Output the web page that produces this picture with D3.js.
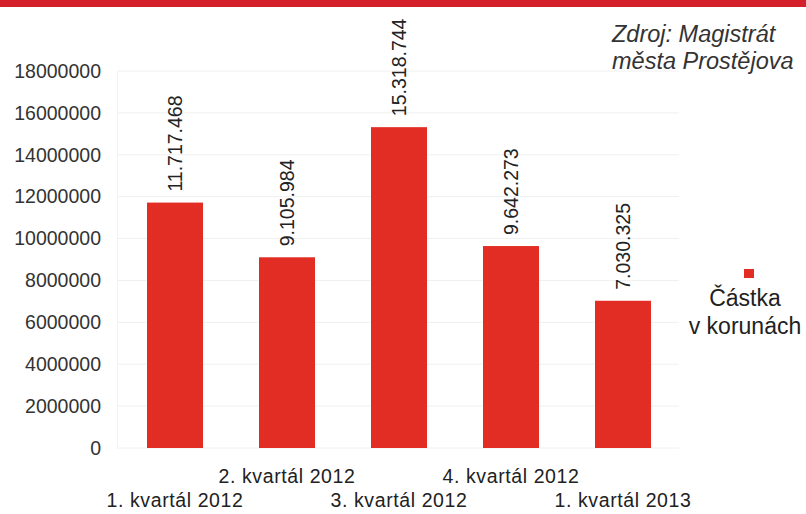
<!DOCTYPE html>
<html>
<head>
<meta charset="utf-8">
<script src="https://cdn.jsdelivr.net/npm/d3@7"></script>
<style>
  body { margin: 0; background: #fff; }
  svg { font-family: "Liberation Sans", Arial, sans-serif; }
</style>
</head>
<body>
<script>
// data
var categories = ['1. kvartál 2012', '2. kvartál 2012', '3. kvartál 2012', '4. kvartál 2012', '1. kvartál 2013'];
var values = [11717468, 9105984, 15318744, 9642273, 7030325];
var valueLabels = ['11.717.468', '9.105.984', '15.318.744', '9.642.273', '7.030.325'];
var yTicks = [0, 2000000, 4000000, 6000000, 8000000, 10000000, 12000000, 14000000, 16000000, 18000000];
var legendLines = ['Částka', 'v korunách'];
var sourceLines = ['Zdroj: Magistrát', 'města Prostějova'];

var W = 806, H = 514;
var red = '#e12d24';

var svg = d3.select('body')
  .append('svg')
  .attr('width', W)
  .attr('height', H);

// red strip at top
svg.append('rect')
  .attr('x', 0).attr('y', 0)
  .attr('width', W).attr('height', 7)
  .attr('fill', '#d4202a');

var x = d3.scaleBand()
  .domain(categories)
  .range([119, 679])
  .paddingInner(0.5)
  .paddingOuter(0.25);

var y = d3.scaleLinear()
  .domain([0, 18000000])
  .range([448, 71]);

// grid
svg.append('g')
  .selectAll('line')
  .data(yTicks)
  .enter()
  .append('line')
  .attr('x1', 117)
  .attr('x2', 679)
  .attr('y1', function(d) { return y(d); })
  .attr('y2', function(d) { return y(d); })
  .attr('stroke', '#f0f0f0')
  .attr('stroke-width', 1);

svg.append('line')
  .attr('x1', 117.5).attr('x2', 117.5)
  .attr('y1', y(18000000)).attr('y2', y(0))
  .attr('stroke', '#f2f2f2');

// y axis labels
var yAxis = d3.axisLeft(y)
  .tickValues(yTicks)
  .tickFormat(d3.format('d'))
  .tickSize(0)
  .tickPadding(0);

var yg = svg.append('g')
  .attr('transform', 'translate(101,0)')
  .call(yAxis);
yg.select('.domain').remove();
yg.selectAll('text')
  .attr('font-size', 19.5)
  .attr('fill', '#333')
  .attr('font-family', '"Liberation Sans", Arial, sans-serif');

// bars
var data = categories.map(function(c, i) {
  return { cat: c, value: values[i], label: valueLabels[i], i: i };
});

svg.append('g')
  .selectAll('rect')
  .data(data)
  .enter()
  .append('rect')
  .attr('x', function(d) { return x(d.cat); })
  .attr('y', function(d) { return y(d.value); })
  .attr('width', x.bandwidth())
  .attr('height', function(d) { return y(0) - y(d.value); })
  .attr('fill', red);

// value labels, rotated
svg.append('g')
  .selectAll('text')
  .data(data)
  .enter()
  .append('text')
  .attr('transform', function(d) {
    return 'translate(' + (x(d.cat) + x.bandwidth() / 2 + 7) + ',' + (y(d.value) - 11) + ') rotate(-90)';
  })
  .attr('font-size', 19.5)
  .attr('fill', '#222')
  .text(function(d) { return d.label; });

// category labels, staggered
svg.append('g')
  .selectAll('text')
  .data(data)
  .enter()
  .append('text')
  .attr('x', function(d) { return x(d.cat) + x.bandwidth() / 2; })
  .attr('y', function(d) { return d.i % 2 === 0 ? 507 : 483; })
  .attr('text-anchor', 'middle')
  .attr('font-size', 19.5)
  .attr('letter-spacing', 0.6)
  .attr('fill', '#222')
  .text(function(d) { return d.cat; });

// legend
svg.append('rect')
  .attr('x', 744).attr('y', 269)
  .attr('width', 10).attr('height', 9)
  .attr('fill', red);

svg.append('g')
  .selectAll('text')
  .data(legendLines)
  .enter()
  .append('text')
  .attr('x', 745)
  .attr('y', function(d, i) { return 306 + i * 28; })
  .attr('text-anchor', 'middle')
  .attr('font-size', 23)
  .attr('fill', '#222')
  .text(function(d) { return d; });

// source
svg.append('g')
  .selectAll('text')
  .data(sourceLines)
  .enter()
  .append('text')
  .attr('x', 612)
  .attr('y', function(d, i) { return 42 + i * 27; })
  .attr('font-size', 23.5)
  .attr('font-style', 'italic')
  .attr('fill', '#333')
  .text(function(d) { return d; });
</script>
</body>
</html>
